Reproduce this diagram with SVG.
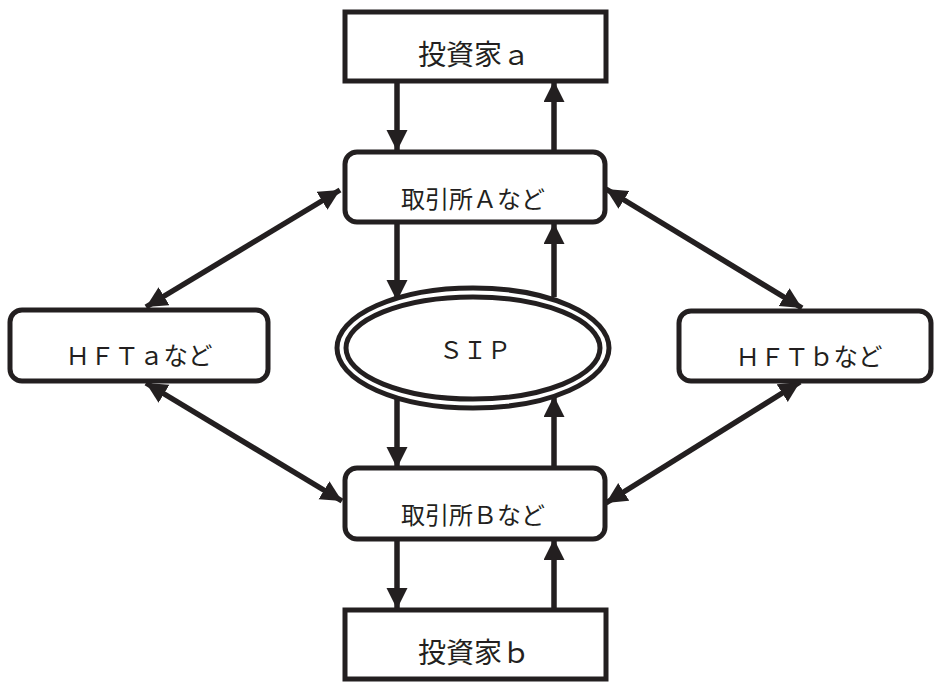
<svg xmlns="http://www.w3.org/2000/svg" width="935" height="684" viewBox="0 0 935 684">
<style>
.box{fill:#fff;stroke:#231f20;stroke-width:5}
.ln{stroke:#231f20;stroke-width:5.5;fill:none}
.t{font-family:"Noto Sans CJK JP","Noto Sans",sans-serif;fill:#231f20;text-anchor:middle}
</style>
<defs>
<marker id="ah" markerUnits="userSpaceOnUse" markerWidth="22" markerHeight="22" refX="21" refY="10.5" orient="auto-start-reverse">
<path d="M0,0 L21,10.5 L0,21 z" fill="#231f20"/>
</marker>
</defs>
<g id="connectors">
<line class="ln" x1="397" y1="82" x2="397" y2="151" marker-end="url(#ah)"/>
<line class="ln" x1="554" y1="150" x2="554" y2="81" marker-end="url(#ah)"/>
<line class="ln" x1="397" y1="223" x2="397" y2="301" marker-end="url(#ah)"/>
<line class="ln" x1="554" y1="297" x2="554" y2="223" marker-end="url(#ah)"/>
<line class="ln" x1="397" y1="399" x2="397" y2="468" marker-end="url(#ah)"/>
<line class="ln" x1="554" y1="467" x2="554" y2="396" marker-end="url(#ah)"/>
<line class="ln" x1="397" y1="540" x2="397" y2="609" marker-end="url(#ah)"/>
<line class="ln" x1="554" y1="608" x2="554" y2="539" marker-end="url(#ah)"/>
<line class="ln" x1="340" y1="190" x2="146" y2="307" marker-start="url(#ah)" marker-end="url(#ah)"/>
<line class="ln" x1="146" y1="383" x2="342" y2="501" marker-start="url(#ah)" marker-end="url(#ah)"/>
<line class="ln" x1="606" y1="189" x2="802" y2="308" marker-start="url(#ah)" marker-end="url(#ah)"/>
<line class="ln" x1="800" y1="382" x2="606" y2="503" marker-start="url(#ah)" marker-end="url(#ah)"/>
</g>
<g id="investorA">
<rect class="box" x="345" y="12" width="261" height="69"/>
<text class="t" x="474" y="65" font-size="28">投資家ａ</text>
</g>
<g id="exchangeA">
<rect class="box" x="345" y="152" width="260" height="70" rx="12"/>
<text class="t" x="473" y="208" font-size="24">取引所Ａなど</text>
</g>
<g id="sip">
<ellipse class="box" cx="473" cy="348" rx="136" ry="60"/>
<ellipse class="box" cx="473" cy="348" rx="127" ry="51"/>
<text class="t" x="475" y="359" font-size="24">ＳＩＰ</text>
</g>
<g id="hftA">
<rect class="box" x="10" y="310" width="258" height="71" rx="12"/>
<text class="t" x="139" y="365" font-size="24.5">ＨＦＴａなど</text>
</g>
<g id="hftB">
<rect class="box" x="679" y="311" width="252" height="70" rx="12"/>
<text class="t" x="809" y="366" font-size="24.5">ＨＦＴｂなど</text>
</g>
<g id="exchangeB">
<rect class="box" x="345" y="468" width="260" height="71" rx="12"/>
<text class="t" x="473" y="524" font-size="24">取引所Ｂなど</text>
</g>
<g id="investorB">
<rect class="box" x="345" y="610" width="261" height="69"/>
<text class="t" x="474" y="663" font-size="28">投資家ｂ</text>
</g>
</svg>
